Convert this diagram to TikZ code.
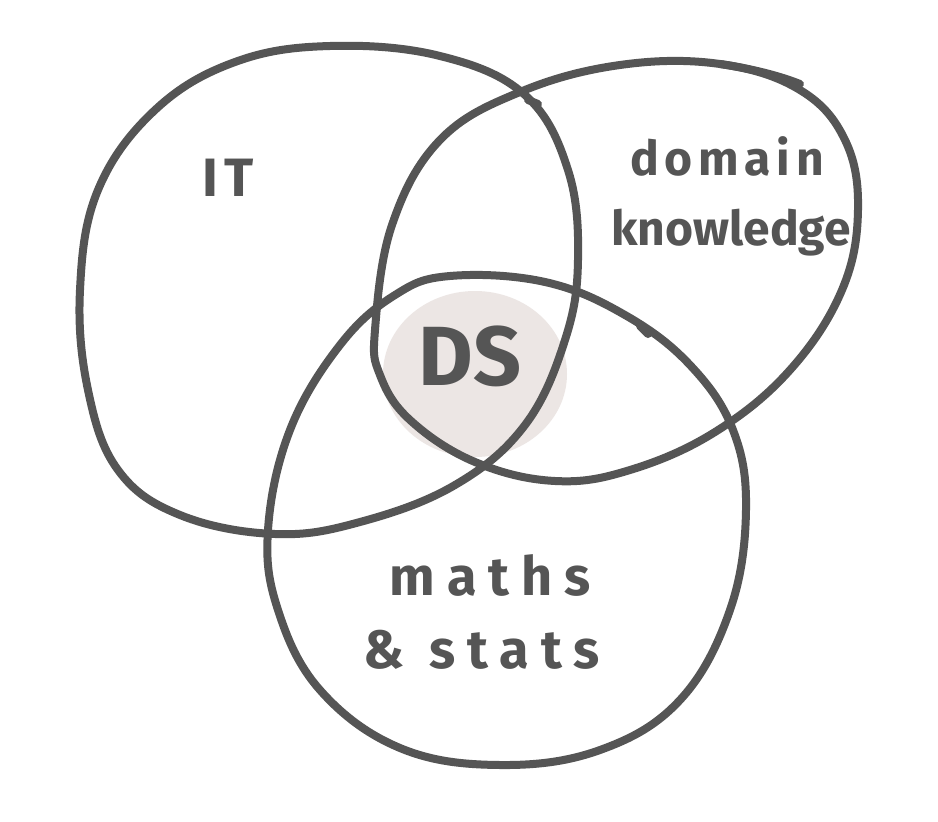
\documentclass[tikz,border=0pt]{standalone}
\usepackage{fontspec}
\setmainfont{Fira Sans}
\newfontfamily\handfont[LetterSpace=12]{Fira Sans}
\newfontfamily\widefont[LetterSpace=22]{Fira Sans}
\begin{document}
\begin{tikzpicture}[x=1pt,y=-1pt,
  pen/.style={draw=inkgrey,line width=8pt,line cap=round,line join=round},
  word/.style={text=inkgrey,inner sep=0pt,anchor=base}]
\definecolor{inkgrey}{RGB}{85,85,85}
\definecolor{dsfill}{RGB}{236,230,228}
\useasboundingbox[fill=white] (0,0) rectangle (938,822);

% shaded centre
\fill[dsfill] (475,374) ellipse [x radius=92, y radius=83];

% IT set
\draw[pen] plot[smooth cycle,tension=0.65] coordinates {
  (330,46) (440,56) (525,95) (568,170) (578,260) (565,340)
  (525,425) (455,485) (360,522) (275,534) (180,515) (118,470)
  (88,390) (80,290) (98,190) (155,110) (235,62)};

% domain knowledge set
\draw[pen] plot[smooth cycle,tension=0.65] coordinates {
  (375,330) (392,225) (440,140) (520,92) (620,65) (720,64)
  (800,90) (845,140) (858,210) (842,290) (790,370) (715,432)
  (630,470) (555,481) (475,462) (410,420) (380,375)};
\draw[pen] (720,64) .. controls (760,70) and (785,78) .. (800,84);
\draw[pen] (528,100) -- (538,104);

% maths & stats set
\draw[pen] plot[smooth cycle,tension=0.65] coordinates {
  (450,276) (545,282) (625,315) (690,365) (733,430) (746,510)
  (730,610) (680,700) (600,750) (500,765) (400,748) (320,690)
  (278,610) (268,530) (290,430) (340,345) (395,295)};
\draw[pen] (640,326) -- (648,334);

% labels
\node[word,font=\handfont\bfseries\fontsize{54}{60}\selectfont] (it) at (228,196) {IT};
\node[word,font=\handfont\bfseries\fontsize{48}{60}\selectfont] (dom1) at (727,175) {domain};
\node[word,font=\bfseries\fontsize{48}{60}\selectfont] (dom2) at (731,245) {knowledge};
\node[word,font=\bfseries\fontsize{84}{90}\selectfont] (ds) at (470,385) {DS};
\node[word,font=\widefont\bfseries\fontsize{54}{60}\selectfont] (ms1) at (490,595) {maths};
\node[word,font=\widefont\bfseries\fontsize{54}{60}\selectfont] (ms2) at (482,668) {\& stats};
\end{tikzpicture}
\end{document}
